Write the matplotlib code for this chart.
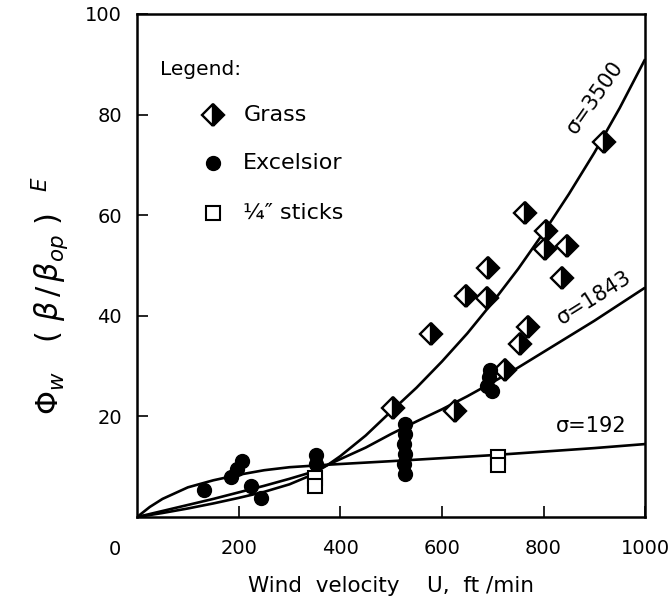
import matplotlib
matplotlib.use("Agg")
import matplotlib.pyplot as plt

plt.rcParams['font.family'] = ['DejaVu Sans']

# ---- curve readings (U in ft/min, value of phi_w (beta/beta_op)^E) ----
u_s3500 = [0, 50, 100, 150, 200, 250, 300, 340, 376, 400, 450, 500, 550, 600,
           650, 700, 750, 800, 850, 900, 950, 1000]
v_s3500 = [0, 0.8, 1.7, 2.7, 3.8, 5.0, 6.5, 8.2, 10.4, 12.1, 16.2, 21.0, 25.7,
           30.9, 36.5, 42.7, 49.3, 56.5, 64.2, 72.4, 81.3, 91.0]

u_s1843 = [0, 50, 100, 150, 200, 250, 300, 340, 376, 450, 500, 550, 600, 650,
           700, 750, 800, 850, 900, 950, 1000]
v_s1843 = [0, 1.2, 2.4, 3.6, 4.9, 6.2, 7.6, 8.8, 10.4, 13.8, 16.5, 19.0, 21.4,
           24.0, 26.8, 29.7, 32.8, 35.9, 39.0, 42.3, 45.6]

u_s192 = [0, 25, 50, 100, 150, 200, 250, 300, 376, 500, 600, 700, 800, 900, 1000]
v_s192 = [0, 2.0, 3.6, 5.9, 7.3, 8.4, 9.3, 9.9, 10.4, 11.1, 11.7, 12.3, 13.0,
          13.7, 14.5]

# ---- data points ----
grass_u = [920, 763, 804, 802, 847, 690, 837, 648, 688, 578, 769, 753, 725, 504, 625]
grass_v = [74.5, 60.5, 56.8, 53.2, 53.8, 49.5, 47.6, 44.0, 43.5, 36.3, 37.8,
           34.3, 29.3, 21.7, 21.0]

excel_u = [131, 184, 196, 206, 225, 243, 352, 352, 527, 527, 525, 527, 525, 527,
           695, 693, 688, 698]
excel_v = [5.4, 8.0, 9.6, 11.2, 6.2, 3.8, 12.3, 10.5, 18.5, 16.5, 14.5, 12.5,
           10.5, 8.5, 29.3, 27.8, 26.0, 25.0]

sticks_u = [350, 350, 710, 710]
sticks_v = [7.8, 6.2, 12.0, 10.3]

x_ticks = [200, 400, 600, 800, 1000]
y_ticks = [20, 40, 60, 80, 100]

curve_labels = ['σ=3500', 'σ=1843', 'σ=192']

fig = plt.figure(figsize=(6.72, 6.04), dpi=100)
ax = fig.add_axes([0.204, 0.144, 0.756, 0.833])

lw = 1.9
for u, v in [(u_s3500, v_s3500), (u_s1843, v_s1843), (u_s192, v_s192)]:
    ax.plot(u, v, color='black', lw=lw, zorder=2, solid_capstyle='butt')

grass_style = dict(marker='D', markersize=11, fillstyle='right',
                   markerfacecolor='black', markerfacecoloralt='white',
                   markeredgecolor='black', markeredgewidth=1.7)
excel_style = dict(marker='o', markersize=10, color='black')
stick_style = dict(marker='s', markersize=9.5, markerfacecolor='white',
                   markeredgecolor='black', markeredgewidth=1.5)

ax.plot(grass_u, grass_v, linestyle='none', zorder=4, **grass_style)
ax.plot(excel_u, excel_v, linestyle='none', zorder=4, **excel_style)
ax.plot(sticks_u, sticks_v, linestyle='none', zorder=4, **stick_style)

ax.set_xlim(0, 1000)
ax.set_ylim(0, 100)
ax.set_xticks(x_ticks)
ax.set_yticks(y_ticks)
ax.tick_params(direction='in', length=8, width=1.2, labelsize=14)
ax.tick_params(axis='x', pad=16)
ax.tick_params(axis='y', pad=11)
for s in ax.spines.values():
    s.set_linewidth(1.8)
ax.text(-0.043, -0.064, '0', transform=ax.transAxes, ha='center', va='center',
        fontsize=14)

ax.set_xlabel('Wind  velocity    U,  ft /min', fontsize=15.5, labelpad=13)
ax.set_ylabel(r'$\Phi_{w}\ \ \ (\ \beta\,/\,\beta_{op}\ )^{\ \ \ E}$',
              fontsize=22)
ax.yaxis.set_label_coords(-0.13, 0.44)

# curve labels
ax.text(902, 83.5, curve_labels[0], rotation=55, ha='center', va='center',
        fontsize=15, rotation_mode='anchor')
ax.text(900, 43.5, curve_labels[1], rotation=32, ha='center', va='center',
        fontsize=15, rotation_mode='anchor')
ax.text(894, 18.0, curve_labels[2], rotation=0, ha='center', va='center',
        fontsize=15)

# legend block
ax.text(0.045, 0.889, 'Legend:', transform=ax.transAxes, fontsize=14.5,
        va='center', ha='left')
ax.plot([0.15], [0.799], transform=ax.transAxes, clip_on=False, **grass_style)
ax.plot([0.15], [0.704], transform=ax.transAxes, clip_on=False, **excel_style)
ax.plot([0.15], [0.604], transform=ax.transAxes, clip_on=False, **stick_style)
ax.text(0.209, 0.799, 'Grass', transform=ax.transAxes, fontsize=16, va='center')
ax.text(0.209, 0.704, 'Excelsior', transform=ax.transAxes, fontsize=16, va='center')
ax.text(0.209, 0.604, '¼″ sticks', transform=ax.transAxes, fontsize=16, va='center')

fig.savefig('out.png', dpi=100)
